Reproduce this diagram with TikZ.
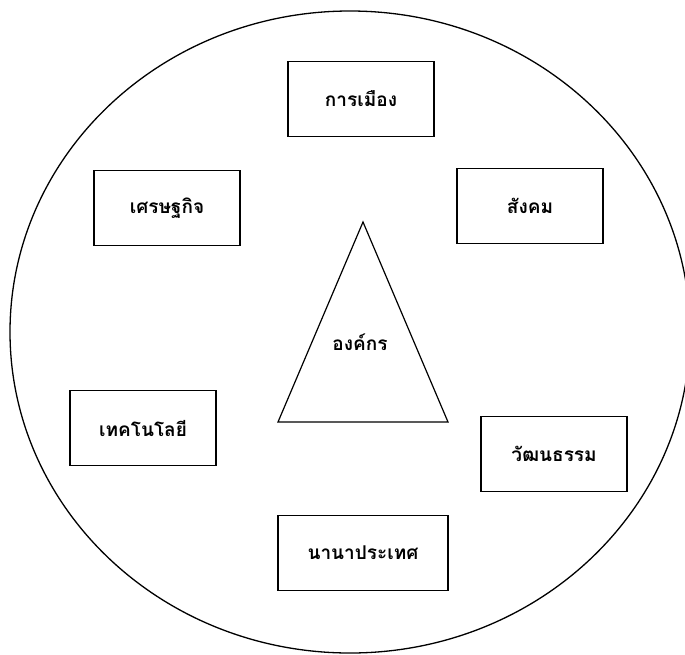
\documentclass[tikz,border=0pt]{standalone}
\usepackage{fontspec}
\newfontfamily\thaifont[Script=Thai]{Loma}
\usepackage{tikz}
\usetikzlibrary{positioning}
\usepackage{xcolor}

\begin{document}
\begin{tikzpicture}[x=1pt, y=-1pt,
    factorbox/.style={draw, line width=1.6pt, minimum width=146pt,
          minimum height=75pt, inner sep=0pt,
          font=\thaifont\bfseries\fontsize{19}{22}\selectfont}]
    \useasboundingbox (0,0) rectangle (685,654);
    \clip (0,0) rectangle (685,654);
    \draw[line width=1.3pt] (350,332) ellipse [x radius=340pt, y radius=321pt];

    % centre
    \coordinate (apex)  at (363,222);
    \coordinate (baseL) at (278,422);
    \coordinate (baseR) at (448,422);
    \draw[line width=1.2pt] (apex) -- (baseR) -- (baseL) -- cycle;
    \node (org) at (360,342) {\thaifont\bfseries\fontsize{19}{22}\selectfont องค์กร};

    % surroundings
    \node[factorbox] (politics) at (361,99)  {การเมือง};
    \node[factorbox] (economy)  at (167,208) {เศรษฐกิจ};
    \node[factorbox] (society)  at (530,206) {สังคม};
    \node[factorbox] (techno)   at (143,428) {เทคโนโลยี};
    \node[factorbox] (culture)  at (554,454) {วัฒนธรรม};
    \node[factorbox, minimum width=170pt] (nations) at (363,553) {นานาประเทศ};
  \end{tikzpicture}
\end{document}
